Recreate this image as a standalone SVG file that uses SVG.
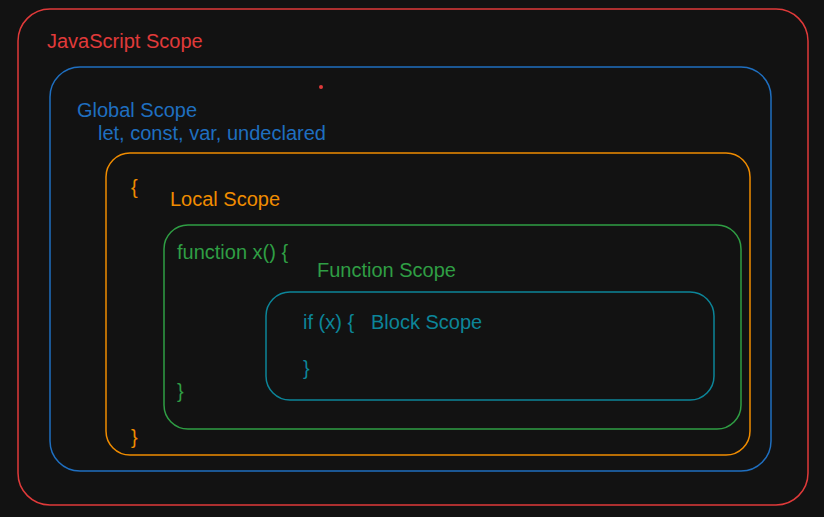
<svg xmlns="http://www.w3.org/2000/svg" width="824" height="517" viewBox="0 0 824 517">
<style>
.b{fill:none;stroke-width:1.5}
text{font-family:"Liberation Sans",Arial,sans-serif;font-size:20px}
.r{stroke:#e03a3a}.rt{fill:#e03a3a}
.bl{stroke:#1f6fc0}.blt{fill:#1f6fc0}
.o{stroke:#f08c00}.ot{fill:#f08c00}
.g{stroke:#2f9e44}.gt{fill:#2f9e44}
.t{stroke:#0c8599}.tt{fill:#0c8599}
</style>
<rect width="824" height="517" fill="#121212"/>
<g id="js-scope">
<rect class="b r" x="18" y="9" width="790" height="496" rx="32"/>
<text class="rt" x="47" y="48">JavaScript Scope</text>
<circle cx="321" cy="87" r="2" fill="#e03a3a"/>
</g>
<g id="global-scope">
<rect class="b bl" x="50" y="67" width="721" height="404" rx="30"/>
<text class="blt" x="77" y="117">Global Scope</text>
<text class="blt" x="98" y="140">let, const, var, undeclared</text>
</g>
<g id="local-scope">
<rect class="b o" x="106" y="153" width="644" height="302" rx="24"/>
<text class="ot" x="131" y="194">{</text>
<text class="ot" x="170" y="206">Local Scope</text>
<text class="ot" x="131" y="444">}</text>
</g>
<g id="function-scope">
<rect class="b g" x="164" y="225" width="577" height="204" rx="24"/>
<text class="gt" x="177" y="259">function x() {</text>
<text class="gt" x="317" y="277">Function Scope</text>
<text class="gt" x="177" y="398">}</text>
</g>
<g id="block-scope">
<rect class="b t" x="266" y="292" width="448" height="108" rx="24"/>
<text class="tt" x="303" y="329">if (x) {</text>
<text class="tt" x="371" y="329">Block Scope</text>
<text class="tt" x="303" y="375">}</text>
</g>
<g id="connectors"/>
</svg>
